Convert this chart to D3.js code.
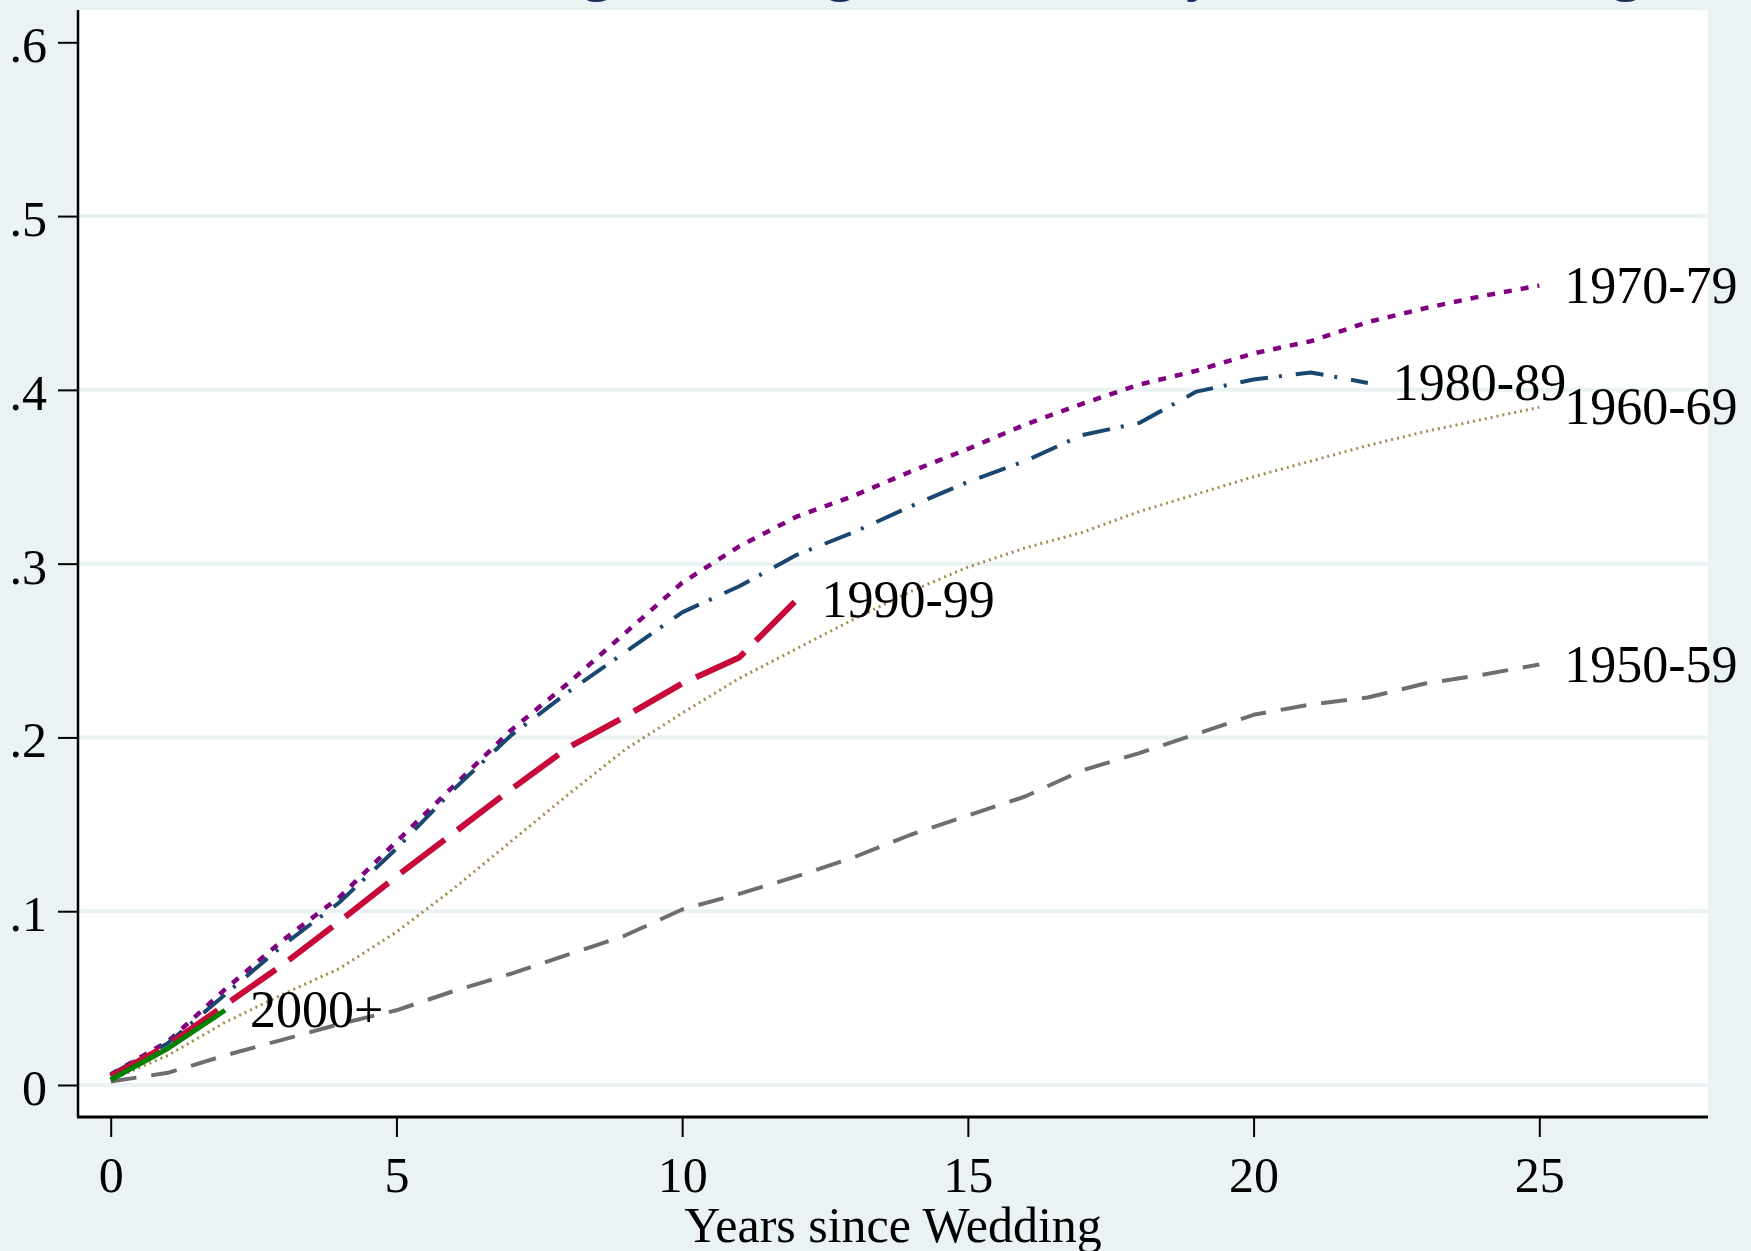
<!DOCTYPE html>
<html>
<head>
<meta charset="utf-8">
<script src="https://cdn.jsdelivr.net/npm/d3@7"></script>
<style>
  body { margin: 0; background: #eaf2f3; }
  svg { display: block; }
  text { font-family: "Liberation Serif", "Times New Roman", serif; }
</style>
</head>
<body>
<div id="chart"></div>
<script>
// data
var years = [0,1,2,3,4,5,6,7,8,9,10,11,12,13,14,15,16,17,18,19,20,21,22,23,24,25]
var xTicks = [0,5,10,15,20,25]
var yTicks = [0,0.1,0.2,0.3,0.4,0.5,0.6]
var yTickLabels = ["0",".1",".2",".3",".4",".5",".6"]
var gridValues = [0,0.1,0.2,0.3,0.4,0.5]

var cohorts = ["1950-59","1960-69","1970-79","1980-89","1990-99","2000+"]
var div1950 = [0.002,0.007,0.017,0.026,0.035,0.043,0.054,0.064,0.075,0.086,0.101,0.110,0.120,0.131,0.144,0.155,0.166,0.181,0.191,0.202,0.213,0.219,0.223,0.231,0.236,0.242]
var div1960 = [0.003,0.017,0.036,0.052,0.067,0.088,0.113,0.140,0.167,0.193,0.214,0.234,0.251,0.268,0.284,0.298,0.309,0.318,0.330,0.340,0.350,0.359,0.368,0.376,0.383,0.390]
var div1970 = [0.006,0.025,0.055,0.083,0.108,0.140,0.172,0.204,0.231,0.260,0.289,0.310,0.327,0.339,0.353,0.366,0.380,0.392,0.403,0.411,0.421,0.428,0.439,0.447,0.454,0.460]
var div1980 = [0.006,0.024,0.052,0.080,0.105,0.136,0.170,0.201,0.226,0.249,0.272,0.287,0.305,0.318,0.333,0.347,0.359,0.374,0.381,0.399,0.406,0.410,0.404]
var div1990 = [0.005,0.023,0.046,0.069,0.094,0.120,0.145,0.170,0.194,0.212,0.231,0.246,0.279]
var div2000 = [0.003,0.021,0.043]

var titleText = "Share of Marriages Ending in Divorce, by Year of Wedding"
var xTitle = "Years since Wedding"

// chart properties
var width = 1751, height = 1251
var plot = {left: 78, right: 1708, top: 10, bottom: 1117}
var bg = '#eaf2f3'

var styles = [
  {color: '#6e6e6e', width: 4, dash: '26,15'},   // 1950-59
  {color: '#a38b4e', width: 3, dash: '2,4'},     // 1960-69
  {color: '#800080', width: 4.5, dash: '8,9'},   // 1970-79
  {color: '#1a476f', width: 4, dash: '28,11,3,14'}, // 1980-89
  {color: '#c70a3a', width: 6, dash: '55,16'},   // 1990-99
  {color: '#008000', width: 5, dash: null}       // 2000+
]
var seriesValues = [div1950, div1960, div1970, div1980, div1990, div2000]

var x = d3.scaleLinear().domain([0, 25]).range([110.7, 1539.3])
var y = d3.scaleLinear().domain([0, 0.6]).range([1085, 42.3])

var svg = d3.select("#chart").append("svg")
  .attr("width", width)
  .attr("height", height)

svg.append("rect").attr("width", width).attr("height", height).attr("fill", bg)

// title, mostly above the visible area
svg.append("text")
  .attr("x", 1641)
  .attr("y", -10)
  .attr("text-anchor", "end")
  .attr("font-size", 58)
  .attr("font-weight", "bold")
  .attr("fill", "#1a2e5c")
  .text(titleText)

svg.append("rect")
  .attr("x", plot.left).attr("y", plot.top)
  .attr("width", plot.right - plot.left).attr("height", plot.bottom - plot.top)
  .attr("fill", "#fff")

// gridlines
svg.selectAll(".grid")
  .data(gridValues)
  .enter()
  .append("line")
  .attr("class", "grid")
  .attr("x1", plot.left).attr("x2", plot.right)
  .attr("y1", function(d) { return y(d) }).attr("y2", function(d) { return y(d) })
  .attr("stroke", bg)
  .attr("stroke-width", 4)

// y axis
var yAxis = d3.axisLeft(y)
  .tickValues(yTicks)
  .tickSize(20)
  .tickPadding(11)
  .tickFormat(function(d, i) { return yTickLabels[i] })

var gy = svg.append("g")
  .attr("transform", "translate(" + plot.left + ",0)")
  .call(yAxis)
gy.select(".domain").remove()
gy.selectAll("line").attr("stroke", "#000").attr("stroke-width", 2)
gy.selectAll("text")
  .attr("font-size", 50)
  .attr("font-family", "'Liberation Serif', serif")
  .attr("fill", "#000")
  .attr("dy", "0.39em")

// x axis
var xAxis = d3.axisBottom(x)
  .tickValues(xTicks)
  .tickSize(20)
  .tickFormat(d3.format("d"))

var gx = svg.append("g")
  .attr("transform", "translate(0," + plot.bottom + ")")
  .call(xAxis)
gx.select(".domain").remove()
gx.selectAll("line").attr("stroke", "#000").attr("stroke-width", 2)
gx.selectAll("text")
  .attr("font-size", 50)
  .attr("font-family", "'Liberation Serif', serif")
  .attr("fill", "#000")
  .attr("y", 75)
  .attr("dy", null)

// axis lines
svg.append("line")
  .attr("x1", plot.left).attr("x2", plot.left)
  .attr("y1", plot.top).attr("y2", plot.bottom)
  .attr("stroke", "#000").attr("stroke-width", 2.5)
svg.append("line")
  .attr("x1", plot.left - 1).attr("x2", plot.right)
  .attr("y1", plot.bottom).attr("y2", plot.bottom)
  .attr("stroke", "#000").attr("stroke-width", 3)

svg.append("text")
  .attr("x", (plot.left + plot.right) / 2)
  .attr("y", 1242)
  .attr("text-anchor", "middle")
  .attr("font-size", 50)
  .text(xTitle)

// lines
var line = d3.line()
  .x(function(d, i) { return x(years[i]) })
  .y(function(d) { return y(d) })

seriesValues.forEach(function(vals, k) {
  var s = styles[k]
  svg.append("path")
    .datum(vals)
    .attr("d", line)
    .attr("fill", "none")
    .attr("stroke", s.color)
    .attr("stroke-width", s.width)
    .attr("stroke-dasharray", s.dash)
    .attr("stroke-linejoin", "round")
})

// end labels
seriesValues.forEach(function(vals, k) {
  var last = vals.length - 1
  svg.append("text")
    .attr("x", x(years[last]) + 25)
    .attr("y", y(vals[last]))
    .attr("dy", "0.33em")
    .attr("font-size", 52)
    .attr("fill", "#000")
    .text(cohorts[k])
})
</script>
</body>
</html>
